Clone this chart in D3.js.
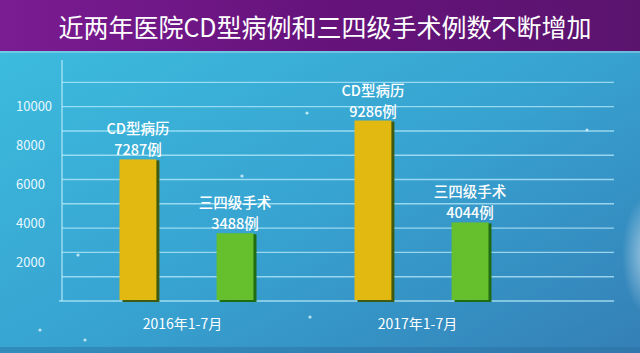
<!DOCTYPE html>
<html>
<head>
<meta charset="utf-8">
<script src="https://cdn.jsdelivr.net/npm/d3@7"></script>
<style>
  html, body { margin: 0; padding: 0; background: #3aa6d2; }
  svg { display: block; }
</style>
</head>
<body>
<div id="chart"></div>
<script>
// ── Data ─────────────────────────────────────────────────────────────────
const title      = "近两年医院CD型病例和三四级手术例数不断增加";
const periods    = ["2016年1-7月", "2017年1-7月"];
const series     = ["CD型病历", "三四级手术"];
const cdCases    = [7287, 9286];
const surgeries  = [3488, 4044];
const yTicks     = [2000, 4000, 6000, 8000, 10000];
const gridStep   = 1250;

const W = 640, H = 353;
const font = "'Noto Sans CJK SC', 'Noto Sans', sans-serif";

const rows = [];
periods.forEach((p, i) => {
  rows.push({ period: p, series: series[0], value: cdCases[i] });
  rows.push({ period: p, series: series[1], value: surgeries[i] });
});

const svg = d3.select("#chart").append("svg")
  .attr("width", W).attr("height", H);

// ── Background ───────────────────────────────────────────────────────────
const defs = svg.append("defs");

const bg = defs.append("linearGradient").attr("id", "bg")
  .attr("x1", "0%").attr("y1", "0%").attr("x2", "100%").attr("y2", "100%");
bg.append("stop").attr("offset", "0%").attr("stop-color", "#3dbfe0");
bg.append("stop").attr("offset", "55%").attr("stop-color", "#37a2d0");
bg.append("stop").attr("offset", "100%").attr("stop-color", "#347fb6");

const head = defs.append("linearGradient").attr("id", "head")
  .attr("x1", "0%").attr("y1", "0%").attr("x2", "100%").attr("y2", "0%");
head.append("stop").attr("offset", "0%").attr("stop-color", "#7a1c92");
head.append("stop").attr("offset", "50%").attr("stop-color", "#66137c");
head.append("stop").attr("offset", "100%").attr("stop-color", "#5a146e");

const glare = defs.append("radialGradient").attr("id", "glare")
  .attr("cx", "50%").attr("cy", "50%").attr("r", "50%");
glare.append("stop").attr("offset", "0%").attr("stop-color", "#ffffff").attr("stop-opacity", 0.55);
glare.append("stop").attr("offset", "100%").attr("stop-color", "#ffffff").attr("stop-opacity", 0);

svg.append("rect").attr("width", W).attr("height", H).attr("fill", "url(#bg)");
svg.append("ellipse")
  .attr("cx", 648).attr("cy", 255).attr("rx", 26).attr("ry", 60)
  .attr("fill", "url(#glare)");
svg.append("rect").attr("x", 0).attr("y", 347).attr("width", W).attr("height", 6)
  .attr("fill", "#2b6f9f").attr("opacity", 0.45);

// small bokeh dots
[[307, 113], [242, 176], [587, 130], [310, 317], [78, 255], [40, 330], [85, 340]]
  .forEach(([x, y]) => {
    svg.append("circle").attr("cx", x).attr("cy", y).attr("r", 1.6)
      .attr("fill", "#dff6ff").attr("opacity", 0.8);
  });

// ── Title bar ────────────────────────────────────────────────────────────
svg.append("rect").attr("width", W).attr("height", 51).attr("fill", "url(#head)");
svg.append("rect").attr("y", 51).attr("width", W).attr("height", 2)
  .attr("fill", "#9fd8ea").attr("opacity", 0.5);

svg.append("text")
  .attr("x", 325).attr("y", 37)
  .attr("text-anchor", "middle")
  .attr("fill", "#ffffff").attr("font-family", font)
  .attr("font-size", "25px")
  .text(title);

// ── Scales ───────────────────────────────────────────────────────────────
const plotL = 62, plotR = 614, baseY = 301, topY = 60;

const y = d3.scaleLinear().domain([0, 12400]).range([baseY, topY]);

const x0 = d3.scaleBand().domain(periods).range([69, 539]);
const x1 = d3.scaleBand().domain(series)
  .range([x0.bandwidth() / 2 - 67, x0.bandwidth() / 2 + 67])
  .paddingInner(0.62);

const color  = { [series[0]]: "#e2b911", [series[1]]: "#66bf2c" };
const shadow = { [series[0]]: "#3f5a12", [series[1]]: "#1f6c14" };

// ── Grid ─────────────────────────────────────────────────────────────────
const gridVals = d3.range(gridStep, y.domain()[1] - 1000, gridStep);
svg.append("g").selectAll("line")
  .data(gridVals).join("line")
  .attr("x1", plotL).attr("x2", plotR)
  .attr("y1", d => y(d)).attr("y2", d => y(d))
  .attr("stroke", "#b9ecfb").attr("stroke-width", 1.4).attr("opacity", 0.75);

// axis frame: left line + baseline
svg.append("line")
  .attr("x1", plotL).attr("x2", plotL).attr("y1", topY).attr("y2", baseY)
  .attr("stroke", "#b9ecfb").attr("stroke-width", 1.4).attr("opacity", 0.8);
svg.append("line")
  .attr("x1", plotL - 3).attr("x2", plotR).attr("y1", baseY).attr("y2", baseY)
  .attr("stroke", "#b9ecfb").attr("stroke-width", 1.4).attr("opacity", 0.8);

// y tick labels
svg.append("g").selectAll("text")
  .data(yTicks).join("text")
  .attr("x", 16).attr("y", d => y(d))
  .attr("dy", "0.35em")
  .attr("fill", "#e8f8ff").attr("font-family", font).attr("font-size", "13px")
  .text(d => d);

// ── Bars ─────────────────────────────────────────────────────────────────
const bars = svg.append("g");
const bx = d => x0(d.period) + x1(d.series);
const cx = d => bx(d) + x1.bandwidth() / 2;

bars.selectAll(".shadow")
  .data(rows).join("rect").attr("class", "shadow")
  .attr("x", d => bx(d) + 3).attr("y", d => y(d.value) + 1)
  .attr("width", x1.bandwidth()).attr("height", d => baseY - y(d.value))
  .attr("fill", d => shadow[d.series]);

bars.selectAll(".bar")
  .data(rows).join("rect").attr("class", "bar")
  .attr("x", d => bx(d)).attr("y", d => y(d.value))
  .attr("width", x1.bandwidth()).attr("height", d => baseY - y(d.value) - 1)
  .attr("fill", d => color[d.series]);

// value labels: series name above, count below
bars.selectAll(".lbl-name")
  .data(rows).join("text").attr("class", "lbl-name")
  .attr("x", cx).attr("y", d => y(d.value) - 25)
  .attr("text-anchor", "middle")
  .attr("fill", "#ffffff").attr("font-family", font)
  .attr("font-size", "14.5px").attr("font-weight", 500)
  .text(d => d.series);

bars.selectAll(".lbl-val")
  .data(rows).join("text").attr("class", "lbl-val")
  .attr("x", cx).attr("y", d => y(d.value) - 4)
  .attr("text-anchor", "middle")
  .attr("fill", "#ffffff").attr("font-family", font)
  .attr("font-size", "14.5px").attr("font-weight", 500)
  .text(d => d.value + "例");

// ── X labels ─────────────────────────────────────────────────────────────
svg.append("g").selectAll("text")
  .data(periods).join("text")
  .attr("x", d => x0(d) + x0.bandwidth() / 2 - 4)
  .attr("y", 329)
  .attr("text-anchor", "middle")
  .attr("fill", "#ffffff").attr("font-family", font).attr("font-size", "14px")
  .text(d => d);
</script>
</body>
</html>
